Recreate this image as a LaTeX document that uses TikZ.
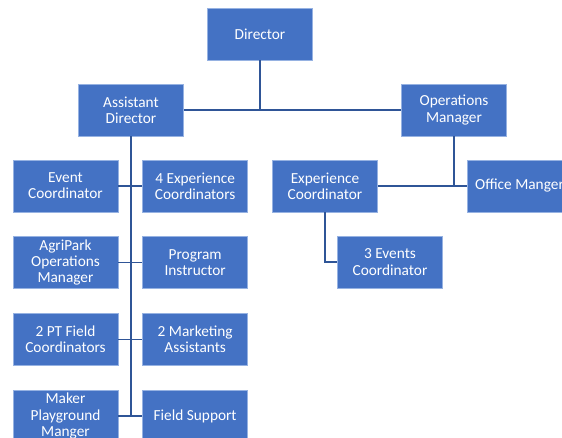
\documentclass[tikz,border=0pt]{standalone}
\usepackage{fontspec}
\setmainfont{Carlito}
\usetikzlibrary{positioning}
\definecolor{boxblue}{RGB}{68,114,196}
\definecolor{edgeblue}{RGB}{150,178,226}
\definecolor{linkblue}{RGB}{47,85,151}
\begin{document}
\begin{tikzpicture}[x=0.75pt, y=-0.75pt,
    box/.style={draw=edgeblue, line width=0.5pt, fill=boxblue, text=white, align=center,
        minimum width=78.75pt, minimum height=39pt, inner sep=1pt,
        font=\fontsize{11.5}{12.2}\selectfont},
    link/.style={draw=linkblue, line width=1.1pt}]
    \useasboundingbox (0,0) rectangle (562,438);

    % Cấp trên
    \node[box] (dir) at (260,34) {Director};
    \node[box] (asst) at (131,110) {Assistant\\Director};
    \node[box] (ops) at (454,110) {Operations\\Manager};

    % Nhánh Assistant Director (hai cột)
    \node[box] (evc) at (65.5,186) {Event\\Coordinator};
    \node[box, right=18pt of evc] (exp4) {4 Experience\\Coordinators};
    \node[box, below=18pt of evc] (agri) {AgriPark\\Operations\\Manager};
    \node[box, right=18pt of agri] (prog) {Program\\Instructor};
    \node[box, below=18pt of agri] (ptf) {2 PT Field\\Coordinators};
    \node[box, right=18pt of ptf] (mkt) {2 Marketing\\Assistants};
    \node[box, below=18pt of ptf] (maker) {Maker\\Playground\\Manger};
    \node[box, right=18pt of maker] (field) {Field Support};

    % Nhánh Operations Manager
    \node[box] (expc) at (325,186) {Experience\\Coordinator};
    \node[box] (office) at (519.5,186) {Office Manger};
    \node[box] (evt3) at (390,262) {3 Events\\Coordinator};

    % Các đường nối
    \draw[link] (dir) -- (dir |- asst);
    \draw[link] (asst) -- (ops);
    \draw[link] (asst.south) -- (asst.south |- field);
    \draw[link] (evc) -- (exp4);
    \draw[link] (agri) -- (prog);
    \draw[link] (ptf) -- (mkt);
    \draw[link] (maker) -- (field);
    \draw[link] (ops) -- (ops |- office);
    \draw[link] (expc) -- (office);
    \draw[link] (expc.south) |- (evt3.west);
\end{tikzpicture}
\end{document}
